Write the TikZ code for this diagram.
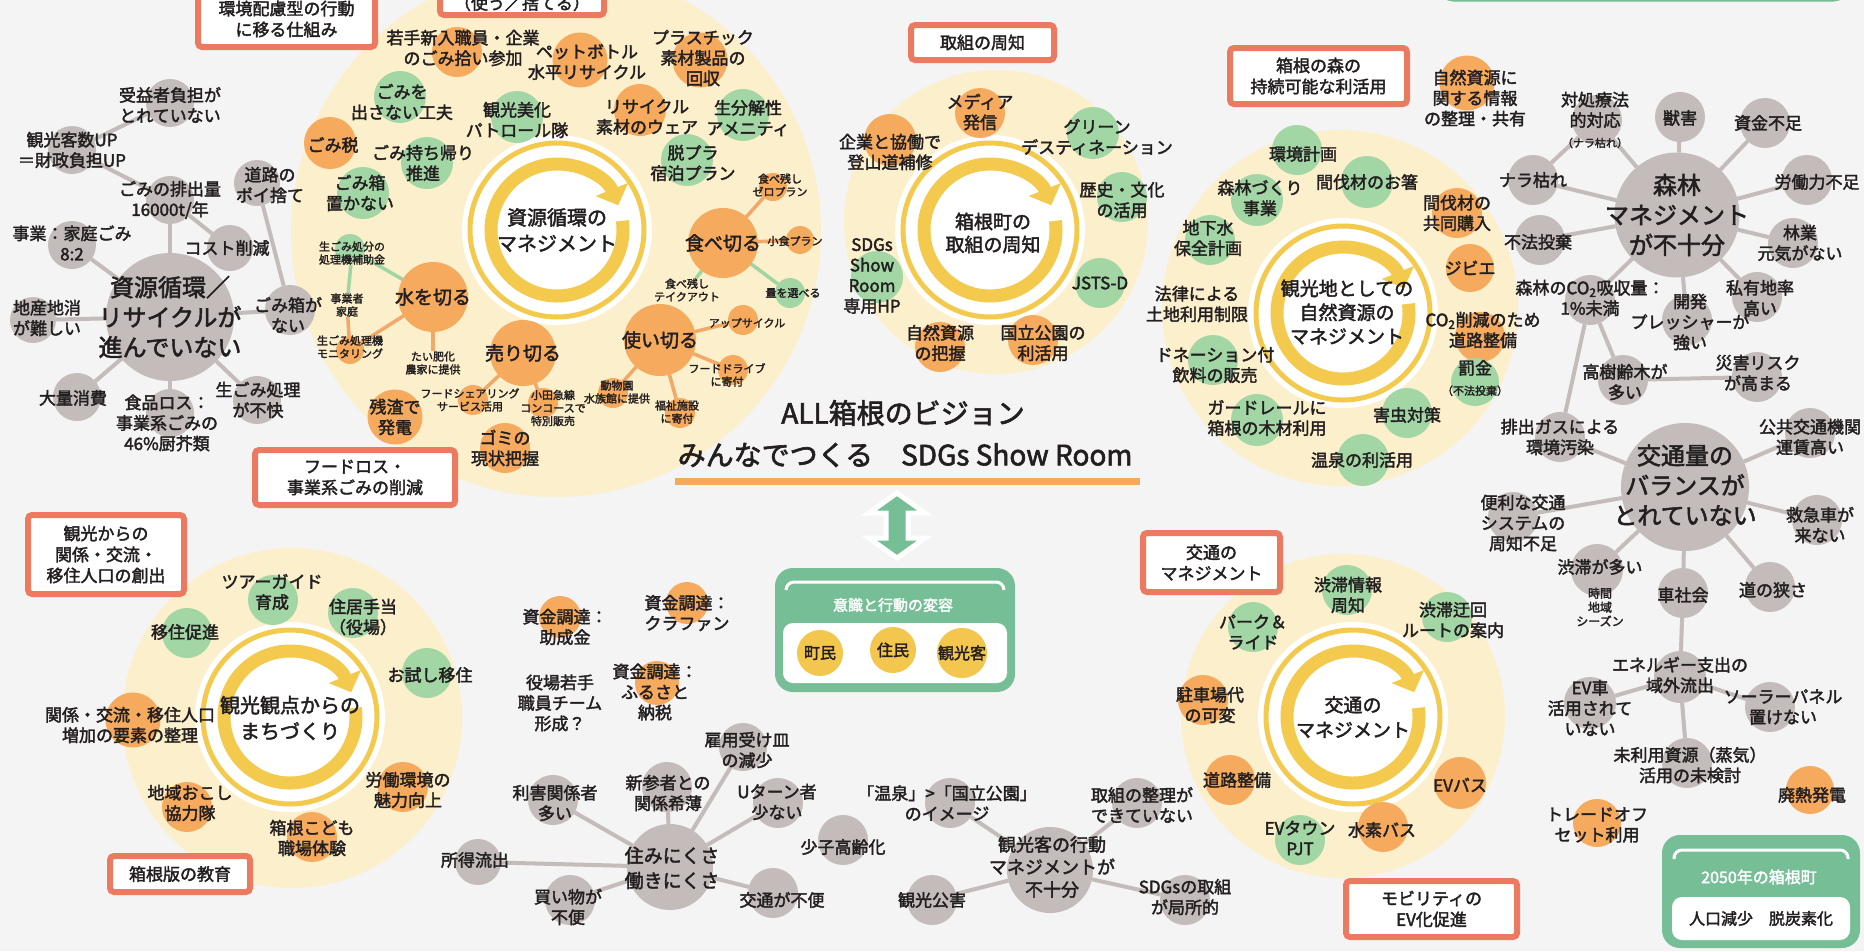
\documentclass[tikz,border=0pt]{standalone}
\usepackage{fontspec}
\setmainfont{Noto Sans CJK JP}[FakeBold=2.2]
\usetikzlibrary{arrows.meta}
\definecolor{bgc}{HTML}{F4F4F4}
\definecolor{cream}{HTML}{FCEFCB}
\definecolor{orb}{HTML}{F5AA5E}
\definecolor{grb}{HTML}{A3D6A5}
\definecolor{gyb}{HTML}{C3BCBA}
\definecolor{oline}{HTML}{F1A868}
\definecolor{gnline}{HTML}{A0D4A2}
\definecolor{redb}{HTML}{EB7A61}
\definecolor{grbox}{HTML}{76BE95}
\definecolor{ringc}{HTML}{F3CA4E}
\definecolor{yel}{HTML}{F3C74E}
\definecolor{txt}{HTML}{231F20}
\definecolor{uline}{HTML}{F5A95A}
\pgfdeclarelayer{back}\pgfdeclarelayer{edges}\pgfdeclarelayer{front}
\pgfsetlayers{back,edges,main,front}
\newcommand\bt[7]{\node[#1,minimum size=#2pt] (#3) at (#4) {};
  \begin{pgfonlayer}{front}\node[#5] (#3t) at (#6) {#7};\end{pgfonlayer}}
\newcommand\edg[3]{\begin{pgfonlayer}{edges}\draw[#1] (#2) -- (#3);\end{pgfonlayer}}
\newcommand\cyc[2]{\coordinate (#1) at (#2);
  \fill[white] (#1) circle[radius=95];
  \draw[ringc,line width=5pt] (#1) circle[radius=87];
  \draw[ringc,line width=13pt,-{Triangle[length=17pt,width=34pt]}] (#1) ++(-8:66) arc[start angle=-8,end angle=338,radius=66];}
\begin{document}
\begin{tikzpicture}[x=1pt,y=-1pt,
 blob/.style={circle,inner sep=0pt,outer sep=0pt},
 ob/.style={blob,fill=orb}, gb/.style={blob,fill=grb}, yb/.style={blob,fill=gyb}, hb/.style={blob,fill=yel},
 lab/.style={align=center,inner sep=0pt,text=txt,font=\fontsize{17}{20.5}\selectfont},
 labs/.style={lab,font=\fontsize{11}{13}\selectfont},
 labm/.style={lab,font=\fontsize{19}{23}\selectfont},
 labc/.style={lab,font=\fontsize{20}{26}\selectfont},
 labg/.style={lab,font=\fontsize{24}{30}\selectfont},
 rbox/.style={draw=redb,line width=6pt,fill=white,rounded corners=4pt,align=center,inner sep=0pt,text=txt,font=\fontsize{17}{21}\selectfont},
 gbox/.style={fill=grbox,rounded corners=18pt,inner sep=0pt},
 gl/.style={draw=gyb,line width=4pt},
 ol/.style={draw=oline,line width=3.5pt},
 nl/.style={draw=gnline,line width=3.5pt}]
\useasboundingbox (0,0) rectangle (1864,951);
\clip (0,0) rectangle (1864,951);
\begin{pgfonlayer}{back}
\fill[bgc] (0,0) rectangle (1864,951);
\fill[cream] (556,232) circle[radius=265];
\fill[cream] (996,222) circle[radius=152];
\fill[cream] (1340,308) circle[radius=178];
\fill[cream] (292,718) circle[radius=170];
\fill[cream] (1343,716) circle[radius=162];
\end{pgfonlayer}
% ---------- top boxes
\node[rbox,minimum width=177pt,minimum height=56pt] (boxA) at (286.5,19) {環境配慮型の行動\\に移る仕組み};
\node[rbox,minimum width=164pt,minimum height=52pt] (boxB) at (522,-11) {};
\node[lab] (boxBt) at (522,3) {（使う／捨てる）};
\node[draw=grbox,line width=3pt,fill=white,rounded corners=12pt,minimum width=405pt,minimum height=60pt] (topg) at (1643.5,-30) {};
% ---------- circle 1
\cyc{c1}{557,230}
\node[labc] (c1t) at (557,230) {資源循環の\\マネジメント};
\bt{ob}{50}{wk}{457,52}{lab}{463,48}{若手新入職員・企業\\のごみ拾い参加}
\bt{ob}{55}{pet}{580,60}{lab}{587,62}{ペットボトル\\水平リサイクル}
\bt{ob}{55}{pla}{700,60}{lab}{703,58}{プラスチック\\素材製品の\\回収}
\bt{gb}{52}{gomi}{400,97}{lab}{402,102}{ごみを\\出さない工夫}
\bt{gb}{52}{pat}{517,117}{lab}{517,120}{観光美化\\パトロール隊}
\bt{ob}{52}{rw}{640,110}{lab}{647,117}{リサイクル\\素材のウェア}
\bt{gb}{52}{ame}{743,115}{lab}{748,118}{生分解性\\アメニティ}
\bt{ob}{52}{tax}{330,143}{lab}{333,145}{ごみ税}
\bt{gb}{52}{mo}{427,163}{lab}{423,163}{ごみ持ち帰り\\推進}
\bt{gb}{52}{dp}{687,160}{lab}{693,163}{脱プラ\\宿泊プラン}
\bt{gb}{52}{gbx}{363,193}{lab}{360,193}{ごみ箱\\置かない}
\bt{ob}{70}{tabe}{723,243}{labm}{723,243}{食べ切る}
\bt{ob}{28}{zero}{773,187}{labs}{780,185}{食べ残し\\ゼロプラン}
\bt{ob}{28}{shoku}{800,240}{labs}{795,241}{小食プラン}
\node[labs] (take) at (687,290) {食べ残し\\テイクアウト};
\bt{gb}{30}{ryo}{790,293}{labs}{793,293}{量を選べる}
\bt{ob}{72}{tsu}{660,340}{labm}{660,340}{使い切る}
\bt{ob}{30}{up}{743,320}{labs}{747,323}{アップサイクル}
\bt{ob}{30}{fd}{733,370}{labs}{727,375}{フードドライブ\\に寄付}
\bt{ob}{30}{fuku}{680,413}{labs}{677,412}{福祉施設\\に寄付}
\bt{ob}{30}{zoo}{613,393}{labs}{617,392}{動物園\\水族館に提供}
\bt{ob}{66}{uri}{523,353}{labm}{523,353}{売り切る}
\bt{ob}{30}{fs}{473,400}{labs}{470,400}{フードシェアリング\\サービス活用}
\bt{ob}{30}{oda}{543,403}{labs}{553,408}{小田急線\\コンコースで\\特別販売}
\bt{ob}{50}{gn}{505,448}{lab}{505,448}{ゴミの\\現状把握}
\bt{ob}{55}{zan}{395,417}{lab}{395,417}{残渣で\\発電}
\bt{ob}{70}{mizu}{433,297}{labm}{433,297}{水を切る}
\bt{gb}{30}{sub}{350,249}{labs}{352,253}{生ごみ処分の\\処理機補助金}
\node[labs] (jig) at (347,305) {事業者\\家庭};
\bt{ob}{28}{mon}{350,350}{labs}{350,347}{生ごみ処理機\\モニタリング}
\node[labs] (tai) at (433,363) {たい肥化\\農家に提供};
\edg{ol}{tabe}{zero}\edg{ol}{tabe}{shoku}\edg{nl}{tabe}{take}\edg{nl}{tabe}{ryo}
\edg{ol}{tsu}{up}\edg{ol}{tsu}{fd}\edg{ol}{tsu}{fuku}\edg{ol}{tsu}{zoo}
\edg{ol}{uri}{fs}\edg{ol}{uri}{oda}
\edg{nl}{mizu}{sub}\edg{nl}{subt}{jig}\edg{ol}{jig}{mon}\edg{ol}{mizu}{mon}\edg{ol}{mizu}{tai}
\node[rbox,minimum width=200pt,minimum height=55pt] (boxF) at (355,477.5) {フードロス・\\事業系ごみの削減};
% ---------- left gray network
\bt{yb}{128}{gm}{170,317}{labg}{170,317}{資源循環／\\リサイクルが\\進んでいない}
\bt{yb}{48}{gjue}{170,103}{lab}{170,105}{受益者負担が\\とれていない}
\bt{yb}{48}{gkan}{72,150}{lab}{72,150}{観光客数UP\\＝財政負担UP}
\bt{yb}{48}{ghai}{170,200}{lab}{170,200}{ごみの排出量\\16000t/年}
\bt{yb}{46}{gdou}{257,183}{lab}{270,185}{道路の\\ポイ捨て}
\bt{yb}{48}{gjig}{72,245}{lab}{72,243}{事業：家庭ごみ\\8:2}
\bt{yb}{46}{gcost}{230,248}{lab}{227,248}{コスト削減}
\bt{yb}{46}{gchi}{33,320}{lab}{47,318}{地産地消\\が難しい}
\bt{yb}{50}{gbox}{290,310}{lab}{288,315}{ごみ箱が\\ない}
\bt{yb}{48}{gtai}{77,397}{lab}{73,398}{大量消費}
\bt{yb}{48}{gsho}{170,413}{lab}{167,423}{食品ロス：\\事業系ごみの\\46\%厨芥類}
\bt{yb}{48}{gnam}{257,400}{lab}{258,400}{生ごみ処理\\が不快}
\edg{gl}{gm}{ghai}\edg{gl}{ghai}{gkan}\edg{gl}{gkan}{gjue}\edg{gl}{ghai}{gcost}
\edg{gl}{gm}{gjig}\edg{gl}{gm}{gchi}\edg{gl}{gm}{gbox}\edg{gl}{gbox}{gdou}
\edg{gl}{gm}{gtai}\edg{gl}{gm}{gsho}\edg{gl}{gm}{gnam}
% ---------- circle 2
\node[rbox,minimum width=143pt,minimum height=35pt] (boxS) at (982.5,42.5) {取組の周知};
\cyc{c2}{990,230}
\node[labm] (c2t) at (993,233) {箱根町の\\取組の周知};
\bt{ob}{50}{med}{980,113}{lab}{980,112}{メディア\\発信}
\bt{ob}{52}{kig}{890,140}{lab}{890,152}{企業と協働で\\登山道補修}
\bt{gb}{52}{gre}{1093,133}{lab}{1097,137}{グリーン\\デスティネーション}
\bt{gb}{50}{rek}{1122,197}{lab}{1122,200}{歴史・文化\\の活用}
\bt{gb}{52}{sdg}{877,277}{lab}{872,276}{SDGs\\Show\\Room\\専用HP}
\bt{gb}{50}{jst}{1100,283}{lab}{1100,283}{JSTS-D}
\bt{ob}{50}{shz}{940,347}{lab}{940,343}{自然資源\\の把握}
\bt{ob}{50}{kok}{1033,340}{lab}{1043,343}{国立公園の\\利活用}
% ---------- circle 3
\node[rbox,minimum width=177pt,minimum height=56pt] (boxM) at (1318.5,76) {箱根の森の\\持続可能な利活用};
\cyc{c3}{1343,313}
\node[labm,font=\fontsize{19}{24}\selectfont] (c3t) at (1347,312) {観光地としての\\自然資源の\\マネジメント};
\bt{gb}{50}{kk}{1297,150}{lab}{1303,154}{環境計画}
\bt{gb}{52}{hs}{1367,182}{lab}{1367,182}{間伐材のお箸}
\bt{gb}{52}{sz}{1257,200}{lab}{1260,198}{森林づくり\\事業}
\bt{ob}{50}{kb}{1457,213}{lab}{1457,213}{間伐材の\\共同購入}
\bt{gb}{50}{chk}{1210,240}{lab}{1208,238}{地下水\\保全計画}
\bt{ob}{48}{jb}{1470,268}{lab}{1470,268}{ジビエ}
\node[lab] (hr) at (1197,304) {法律による\\土地利用制限};
\bt{ob}{50}{co}{1480,337}{lab}{1483,330}{CO\textsubscript{2}削減のため\\道路整備}
\bt{gb}{50}{dn}{1213,360}{lab}{1215,365}{ドネーション付\\飲料の販売}
\bt{gb}{48}{bk}{1475,382}{lab}{1475,378}{罰金\\{\fontsize{11}{13}\selectfont（不法投棄）}}
\bt{gb}{52}{gd}{1257,420}{lab}{1267,418}{ガードレールに\\箱根の木材利用}
\bt{gb}{50}{gc}{1407,413}{lab}{1407,415}{害虫対策}
\bt{gb}{52}{on}{1363,460}{lab}{1362,460}{温泉の利活用}
\bt{ob}{55}{sj}{1467,83}{lab}{1475,98}{自然資源に\\関する情報\\の整理・共有}
% ---------- forest network
\bt{yb}{125}{sm}{1677,215}{labg}{1677,215}{森林\\マネジメント\\が不十分}
\bt{yb}{50}{stai}{1597,120}{lab}{1595,120}{対処療法\\的対応\\{\fontsize{11}{13}\selectfont（ナラ枯れ）}}
\bt{yb}{50}{sju}{1680,117}{lab}{1680,118}{獣害}
\bt{yb}{50}{sshi}{1765,123}{lab}{1768,123}{資金不足}
\bt{yb}{50}{snara}{1533,180}{lab}{1533,180}{ナラ枯れ}
\bt{yb}{50}{srou}{1807,180}{lab}{1817,182}{労働力不足}
\bt{yb}{50}{sfu}{1540,240}{lab}{1538,242}{不法投棄}
\bt{yb}{50}{srin}{1793,243}{lab}{1800,243}{林業\\元気がない}
\bt{yb}{50}{sco}{1590,300}{lab}{1590,298}{森林のCO\textsubscript{2}吸収量：\\1\%未満}
\bt{yb}{50}{skai}{1687,320}{lab}{1690,322}{開発\\プレッシャーが\\強い}
\bt{yb}{50}{sshiyu}{1757,297}{lab}{1760,298}{私有地率\\高い}
\bt{yb}{50}{skou}{1623,380}{lab}{1625,382}{高樹齢木が\\多い}
\bt{yb}{50}{ssai}{1757,377}{lab}{1758,373}{災害リスク\\が高まる}
\bt{yb}{50}{shai}{1560,437}{lab}{1560,437}{排出ガスによる\\環境汚染}
% ---------- traffic network
\bt{yb}{128}{km}{1685,487}{labg}{1685,485}{交通量の\\バランスが\\とれていない}
\bt{yb}{50}{kkou}{1810,433}{lab}{1810,437}{公共交通機関\\運賃高い}
\bt{yb}{50}{kben}{1513,517}{lab}{1523,523}{便利な交通\\システムの\\周知不足}
\bt{yb}{50}{kkyu}{1817,520}{lab}{1820,525}{救急車が\\来ない}
\bt{yb}{52}{kju}{1597,570}{lab}{1600,567}{渋滞が多い}
\node[labs,font=\fontsize{12}{14}\selectfont] (kjus) at (1600,607) {時間\\地域\\シーズン};
\bt{yb}{50}{kkur}{1683,593}{lab}{1683,595}{車社会}
\bt{yb}{50}{kmi}{1770,587}{lab}{1773,590}{道の狭さ}
\bt{yb}{52}{ken}{1680,677}{lab}{1680,675}{エネルギー支出の\\域外流出}
\bt{yb}{52}{kev}{1590,703}{lab}{1590,708}{EV車\\活用されて\\いない}
\bt{yb}{50}{kso}{1770,707}{lab}{1783,707}{ソーラーパネル\\置けない}
\bt{yb}{50}{kmr}{1687,763}{lab}{1690,765}{未利用資源（蒸気）\\活用の未検討}
\bt{ob}{48}{khai}{1810,790}{lab}{1812,795}{廃熱発電}
\bt{ob}{48}{ktr}{1597,823}{lab}{1597,825}{トレードオフ\\セット利用}
\edg{gl}{sm}{stai}\edg{gl}{stai}{snara}\edg{gl}{sm}{snara}\edg{gl}{sm}{sju}
\edg{gl}{sm}{sshi}\edg{gl}{sm}{srou}\edg{gl}{sm}{srin}\edg{gl}{sm}{sfu}
\edg{gl}{sm}{sco}\edg{gl}{sm}{skai}\edg{gl}{sm}{sshiyu}\edg{gl}{sco}{skou}
\edg{gl}{skou}{ssai}\edg{gl}{sco}{shai}\edg{gl}{shai}{km}
\edg{gl}{km}{kkou}\edg{gl}{km}{kben}\edg{gl}{km}{kkyu}\edg{gl}{km}{kju}
\edg{gl}{km}{kkur}\edg{gl}{km}{kmi}\edg{gl}{kkur}{ken}\edg{gl}{ken}{kev}
\edg{gl}{ken}{kso}\edg{gl}{ken}{kmr}
% ---------- 2050 box
\node[gbox,minimum width=198pt,minimum height=113pt] (g2050) at (1761,891.5) {};
\draw[white,line width=3pt,rounded corners=8pt] (1674,859) -- (1674,850) -- (1848,850) -- (1848,859);
\node[lab,text=white,font=\fontsize{16}{19}\selectfont] (g2050t) at (1759,877) {2050年の箱根町};
\node[fill=white,rounded corners=10pt,minimum width=178pt,minimum height=43pt,lab,font=\fontsize{16}{19}\selectfont] (g2050b) at (1761,918.5) {人口減少　脱炭素化};
% ---------- circle 4
\node[rbox,minimum width=156pt,minimum height=79pt] (boxK) at (106,554.5) {観光からの\\関係・交流・\\移住人口の創出};
\cyc{c4}{290,717}
\node[labc] (c4t) at (290,718) {観光観点からの\\まちづくり};
\bt{gb}{50}{tg}{273,600}{lab}{272,592}{ツアーガイド\\育成}
\bt{gb}{50}{jk}{353,613}{lab}{363,617}{住居手当\\（役場）}
\bt{gb}{50}{ij}{187,633}{lab}{185,632}{移住促進}
\bt{gb}{50}{os}{427,673}{lab}{430,675}{お試し移住}
\bt{ob}{55}{kr}{133,720}{lab}{130,725}{関係・交流・移住人口\\増加の要素の整理}
\bt{ob}{50}{rd}{403,787}{lab}{408,790}{労働環境の\\魅力向上}
\bt{ob}{50}{ch2}{187,807}{lab}{190,803}{地域おこし\\協力隊}
\bt{ob}{50}{kd}{312,837}{lab}{312,838}{箱根こども\\職場体験}
\node[rbox,minimum width=140pt,minimum height=36pt] (boxE) at (180,874) {箱根版の教育};
% ---------- title and center
\node[lab,font=\fontsize{28}{34}\selectfont] (tit1) at (903,413) {ALL箱根のビジョン};
\node[lab,font=\fontsize{28}{34}\selectfont] (tit2) at (905,455) {みんなでつくる　SDGs Show Room};
\draw[uline,line width=7pt] (675,481) -- (1140,481);
\fill[grbox,draw=white,line width=5pt,line join=miter] (897,493) -- (925,513) -- (908,513) -- (908,538) -- (925,538) -- (897,558) -- (869,538) -- (886,538) -- (886,513) -- (869,513) -- cycle;
\node[gbox,minimum width=240pt,minimum height=124pt] (ishiki) at (895,630) {};
\draw[white,line width=3pt,rounded corners=8pt] (786,590) -- (786,582) -- (1004,582) -- (1004,590);
\node[lab,text=white,font=\fontsize{15}{18}\selectfont] (ishikit) at (893,605) {意識と行動の変容};
\node[fill=white,rounded corners=10pt,minimum width=224pt,minimum height=60pt,inner sep=0pt] (ishikib) at (895,653) {};
\node[hb,minimum size=46pt,lab,font=\fontsize{16}{19}\selectfont] (ch) at (820,653) {町民};
\node[hb,minimum size=46pt,lab,font=\fontsize{16}{19}\selectfont] (jm) at (893,650) {住民};
\node[hb,minimum size=46pt,lab,font=\fontsize{16}{19}\selectfont] (kk2) at (962,653) {観光客};
% ---------- funding
\bt{ob}{42}{f1}{560,617}{lab}{565,627}{資金調達：\\助成金}
\bt{ob}{42}{f2}{687,603}{lab}{687,613}{資金調達：\\クラファン}
\bt{ob}{44}{f3}{657,683}{lab}{655,692}{資金調達：\\ふるさと\\納税}
\node[lab] (f4) at (560,703) {役場若手\\職員チーム\\形成？};
% ---------- living network
\bt{yb}{86}{wm}{670,867}{lab,font=\fontsize{19}{25}\selectfont}{672,868}{住みにくさ\\働きにくさ}
\bt{yb}{48}{wko}{743,747}{lab}{747,750}{雇用受け皿\\の減少}
\bt{yb}{50}{wshin}{667,787}{lab}{668,793}{新参者との\\関係希薄}
\bt{yb}{50}{wri}{553,800}{lab}{555,803}{利害関係者\\多い}
\bt{yb}{50}{wu}{778,803}{lab}{777,802}{Uターン者\\少ない}
\bt{yb}{50}{wsho}{843,840}{lab}{843,847}{少子高齢化}
\bt{yb}{46}{wsy}{478,862}{lab}{475,860}{所得流出}
\bt{yb}{50}{wka}{570,900}{lab}{568,907}{買い物が\\不便}
\bt{yb}{50}{wko2}{773,893}{lab}{782,900}{交通が不便}
\edg{gl}{wm}{wsy}\edg{gl}{wm}{wri}\edg{gl}{wm}{wshin}\edg{gl}{wm}{wko}
\edg{gl}{wm}{wu}\edg{gl}{wm}{wka}\edg{gl}{wm}{wko2}
% ---------- visitor network
\bt{yb}{86}{vm}{1050,870}{lab,font=\fontsize{18}{22.5}\selectfont}{1052,867}{観光客の行動\\マネジメントが\\不十分}
\bt{yb}{50}{von}{950,803}{lab}{947,803}{「温泉」>「国立公園」\\のイメージ}
\bt{yb}{50}{vtor}{1137,803}{lab}{1142,805}{取組の整理が\\できていない}
\bt{yb}{50}{vkk}{932,900}{lab}{932,900}{観光公害}
\bt{yb}{50}{vsd}{1185,900}{lab}{1185,897}{SDGsの取組\\が局所的}
\edg{gl}{vm}{von}\edg{gl}{vm}{vtor}\edg{gl}{vm}{vkk}\edg{gl}{vm}{vsd}
% ---------- circle 5
\node[rbox,minimum width=137pt,minimum height=59pt] (boxT) at (1211.5,562.5) {交通の\\マネジメント};
\cyc{c5}{1353,717}
\node[labm,font=\fontsize{19}{25}\selectfont] (c5t) at (1353,717) {交通の\\マネジメント};
\bt{gb}{50}{jj}{1347,590}{lab}{1348,595}{渋滞情報\\周知}
\bt{gb}{50}{ju}{1447,617}{lab}{1453,620}{渋滞迂回\\ルートの案内}
\bt{gb}{50}{pr}{1253,627}{lab}{1253,632}{パーク＆\\ライド}
\bt{ob}{50}{cp}{1203,700}{lab}{1210,705}{駐車場代\\の可変}
\bt{ob}{50}{dr}{1230,780}{lab}{1237,780}{道路整備}
\bt{ob}{52}{evb}{1460,783}{lab}{1460,785}{EVバス}
\bt{gb}{50}{evt}{1300,840}{lab}{1300,838}{EVタウン\\PJT}
\bt{ob}{50}{h2}{1383,827}{lab}{1382,830}{水素バス}
\node[rbox,minimum width=171pt,minimum height=56pt] (boxV) at (1431.5,909) {モビリティの\\EV化促進};
\end{tikzpicture}
\end{document}
